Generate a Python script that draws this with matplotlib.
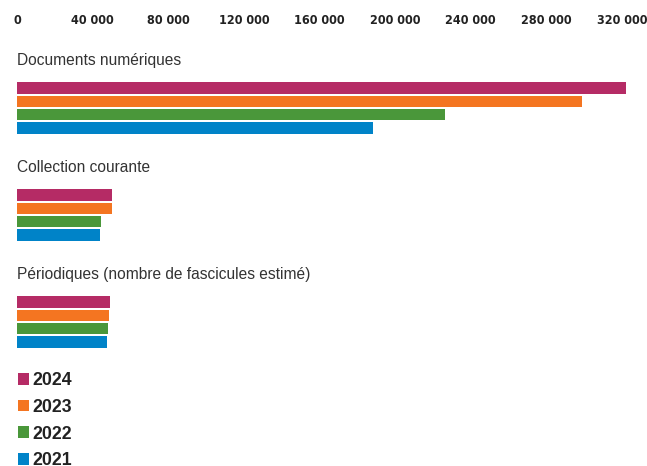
import matplotlib.pyplot as plt
from matplotlib.patches import Patch

# Données
categories = ['Documents numériques', 'Collection courante',
              'Périodiques (nombre de fascicules estimé)']
years = ['2024', '2023', '2022', '2021']
values = {
    '2024': [322000, 50300, 49200],
    '2023': [299000, 50300, 48700],
    '2022': [226500, 44400, 48100],
    '2021': [188400, 43900, 47600],
}
ticks = [0, 40000, 80000, 120000, 160000, 200000, 240000, 280000, 320000]
colors = {'2024': '#B52B65', '2023': '#F47521', '2022': '#4A973A', '2021': '#0083C8'}

W, H = 647, 466
fig = plt.figure(figsize=(W / 100, H / 100), dpi=100)
top_px, bot_px = 30, 360
ax = fig.add_axes([17 / W, 1 - bot_px / H, 630 / W, (bot_px - top_px) / H])
ax.set_xlim(0, 320000 * 630 / 605)
ax.set_ylim(bot_px, top_px)

group_step = 107
bar_step = 13.3
bar_h = 11.5
for g, cat in enumerate(categories):
    base = 82 + g * group_step
    ax.text(0, base - 21, cat, va='center', ha='left', fontsize=11.2,
            color='#333333', family=['Liberation Sans', 'DejaVu Sans'])
    for i, y in enumerate(years):
        ax.barh(base + 6 + i * bar_step, values[y][g], height=bar_h,
                color=colors[y], left=0)

ax.xaxis.tick_top()
ax.set_xticks(ticks)
ax.set_xticklabels([f'{t:,}'.replace(',', ' ') for t in ticks],
                   family='DejaVu Sans', fontstretch='condensed',
                   fontweight='bold', fontsize=9, color='#222222')
ax.tick_params(axis='x', length=0, pad=2)
ax.set_yticks([])
for s in ax.spines.values():
    s.set_visible(False)

handles = [Patch(facecolor=colors[y], edgecolor='none', label=y) for y in years]
fig.legend(handles=handles, loc='upper left', bbox_to_anchor=(18 / W, 1 - 372 / H),
           frameon=False, handlelength=0.64, handleheight=0.64, handletextpad=0.15,
           labelspacing=0.55, borderaxespad=0, borderpad=0,
           prop={'family': ['Liberation Sans', 'DejaVu Sans'], 'weight': 'bold', 'size': 12.8},
           labelcolor='#222222')

fig.savefig('out.png', dpi=100)
